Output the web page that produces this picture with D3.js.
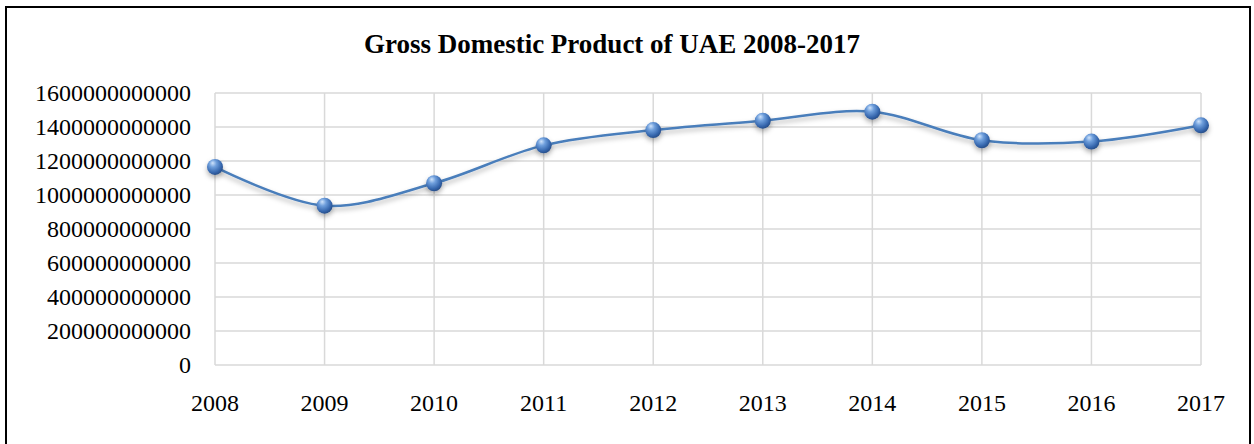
<!DOCTYPE html>
<html>
<head>
<meta charset="utf-8">
<script src="https://cdn.jsdelivr.net/npm/d3@7"></script>
<style>
  body { margin: 0; background: #fff; }
  text { font-family: "Liberation Serif", "Times New Roman", serif; }
</style>
</head>
<body>
<div id="chart"></div>
<script>
const years = ["2008", "2009", "2010", "2011", "2012", "2013", "2014", "2015", "2016", "2017"];
const gdp = [1.165e12, 0.937e12, 1.069e12, 1.292e12, 1.382e12, 1.437e12, 1.490e12, 1.322e12, 1.314e12, 1.410e12];
const yTicks = [0, 2e11, 4e11, 6e11, 8e11, 1e12, 1.2e12, 1.4e12, 1.6e12];
const title = "Gross Domestic Product of UAE 2008-2017";

const width = 1254, height = 444;
const margin = { top: 93, right: 53, bottom: 79, left: 215 };

const svg = d3.select("#chart").append("svg")
    .attr("width", width)
    .attr("height", height);

const defs = svg.append("defs");
const grad = defs.append("radialGradient")
    .attr("id", "ball")
    .attr("cx", "40%").attr("cy", "35%").attr("r", "65%")
    .attr("fx", "35%").attr("fy", "25%");
grad.append("stop").attr("offset", "0%").attr("stop-color", "#cfe3fb");
grad.append("stop").attr("offset", "35%").attr("stop-color", "#6f9fdc");
grad.append("stop").attr("offset", "80%").attr("stop-color", "#3566ad");
grad.append("stop").attr("offset", "100%").attr("stop-color", "#284f8a");

const shadow = defs.append("filter").attr("id", "shadow")
    .attr("x", "-50%").attr("y", "-50%").attr("width", "200%").attr("height", "200%");
shadow.append("feDropShadow")
    .attr("dx", 0).attr("dy", 3).attr("stdDeviation", 2.5)
    .attr("flood-color", "#000").attr("flood-opacity", 0.3);

// outer frame
svg.append("rect")
    .attr("x", 6).attr("y", 7)
    .attr("width", 1244).attr("height", 445)
    .attr("fill", "none")
    .attr("stroke", "#000")
    .attr("stroke-width", 2);

const x = d3.scalePoint()
    .domain(years)
    .range([margin.left, width - margin.right]);

const y = d3.scaleLinear()
    .domain([0, 1.6e12])
    .range([height - margin.bottom, margin.top]);

// gridlines
svg.append("g").selectAll("line")
    .data(yTicks)
    .join("line")
    .attr("x1", margin.left).attr("x2", width - margin.right)
    .attr("y1", d => y(d)).attr("y2", d => y(d))
    .attr("stroke", "#d9d9d9")
    .attr("stroke-width", 1.5);

svg.append("g").selectAll("line")
    .data(years)
    .join("line")
    .attr("x1", d => x(d)).attr("x2", d => x(d))
    .attr("y1", margin.top).attr("y2", height - margin.bottom)
    .attr("stroke", "#d9d9d9")
    .attr("stroke-width", 1.5);

// y labels
svg.append("g").selectAll("text")
    .data(yTicks)
    .join("text")
    .attr("x", 191)
    .attr("y", d => y(d))
    .attr("dy", "0.34em")
    .attr("text-anchor", "end")
    .attr("font-size", 24)
    .attr("fill", "#000")
    .text(d => d3.format("d")(d));

// x labels
svg.append("g").selectAll("text")
    .data(years)
    .join("text")
    .attr("x", d => x(d))
    .attr("y", 411)
    .attr("text-anchor", "middle")
    .attr("font-size", 24)
    .attr("fill", "#000")
    .text(d => d);

// title
svg.append("text")
    .attr("x", 612)
    .attr("y", 53)
    .attr("text-anchor", "middle")
    .attr("font-size", 27)
    .attr("font-weight", "bold")
    .text(title);

// line
const line = d3.line()
    .x((d, i) => x(years[i]))
    .y(d => y(d))
    .curve(d3.curveCatmullRom.alpha(0.5));

svg.append("path")
    .datum(gdp)
    .attr("d", line)
    .attr("fill", "none")
    .attr("stroke", "#4a7ebb")
    .attr("stroke-width", 2.5)
    .attr("filter", "url(#shadow)");

svg.append("g").selectAll("circle")
    .data(gdp)
    .join("circle")
    .attr("cx", (d, i) => x(years[i]))
    .attr("cy", d => y(d))
    .attr("r", 8)
    .attr("fill", "url(#ball)")
    .attr("filter", "url(#shadow)");
</script>
</body>
</html>
